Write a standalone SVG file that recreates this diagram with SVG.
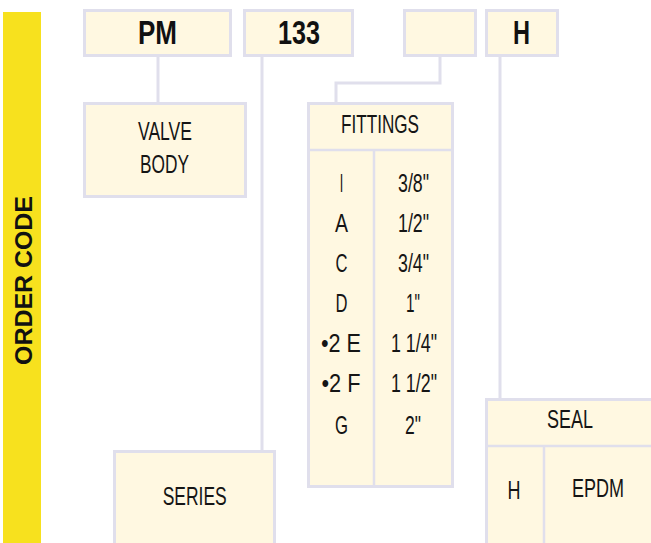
<svg xmlns="http://www.w3.org/2000/svg" width="651" height="543" viewBox="0 0 651 543">
<style>
.box{fill:#fff8e1;stroke:#e0dfec;stroke-width:3}
.div{stroke:#e0dfec;stroke-width:2.5;fill:none}
.con{stroke:#e0dfec;stroke-width:3;fill:none}
.t{font-family:"Liberation Sans Narrow","Liberation Sans",Arial,sans-serif;font-size:26px;fill:#151515;text-anchor:middle}
.b{font-family:"Liberation Sans Narrow","Liberation Sans",Arial,sans-serif;font-size:34px;font-weight:bold;fill:#111;text-anchor:middle}
</style>
<rect x="3" y="12" width="38" height="531" fill="#f7e11e"/>
<text transform="translate(32,280.5) rotate(-90)" font-family="'Liberation Sans',Arial,sans-serif" font-weight="bold" font-size="24.5" fill="#111" text-anchor="middle" textLength="169" lengthAdjust="spacingAndGlyphs">ORDER CODE</text>
<g id="connectors">
<line class="con" x1="158" y1="57" x2="158" y2="102"/>
<line class="con" x1="262" y1="57" x2="262" y2="450"/>
<path class="con" d="M440 57 V83 H336 V102"/>
<line class="con" x1="500" y1="57" x2="500" y2="398"/>
</g>
<g id="code-pm">
<rect class="box" x="84.5" y="10.5" width="146" height="45"/>
<text class="b" x="157.5" y="44" textLength="39" lengthAdjust="spacingAndGlyphs">PM</text>
</g>
<g id="code-133">
<rect class="box" x="244.5" y="10.5" width="108" height="45"/>
<text class="b" x="299" y="44" textLength="42" lengthAdjust="spacingAndGlyphs">133</text>
</g>
<g id="code-blank">
<rect class="box" x="404.5" y="10.5" width="71" height="45"/>
</g>
<g id="code-h">
<rect class="box" x="486.5" y="10.5" width="71" height="45"/>
<text class="b" x="521.5" y="44" textLength="17" lengthAdjust="spacingAndGlyphs">H</text>
</g>
<g id="valve-body">
<rect class="box" x="84.5" y="103.5" width="161" height="93"/>
<text class="t" x="165" y="140" textLength="54" lengthAdjust="spacingAndGlyphs">VALVE</text>
<text class="t" x="164.5" y="173" textLength="49" lengthAdjust="spacingAndGlyphs">BODY</text>
</g>
<g id="fittings">
<rect class="box" x="308.5" y="103.5" width="144" height="383"/>
<line class="div" x1="308" y1="150" x2="453" y2="150"/>
<line class="div" x1="374" y1="150" x2="374" y2="486"/>
<text class="t" x="380" y="133" textLength="78" lengthAdjust="spacingAndGlyphs">FITTINGS</text>
<text class="t" x="341.5" y="192" textLength="3.5" lengthAdjust="spacingAndGlyphs">I</text>
<text class="t" x="413.5" y="192" textLength="31" lengthAdjust="spacingAndGlyphs">3/8"</text>
<text class="t" x="341.5" y="232" textLength="13" lengthAdjust="spacingAndGlyphs">A</text>
<text class="t" x="413.5" y="232" textLength="31" lengthAdjust="spacingAndGlyphs">1/2"</text>
<text class="t" x="341.5" y="272" textLength="12" lengthAdjust="spacingAndGlyphs">C</text>
<text class="t" x="413.5" y="272" textLength="31" lengthAdjust="spacingAndGlyphs">3/4"</text>
<text class="t" x="341.5" y="312" textLength="12" lengthAdjust="spacingAndGlyphs">D</text>
<text class="t" x="413" y="312" textLength="14" lengthAdjust="spacingAndGlyphs">1"</text>
<text class="t" x="341" y="352" textLength="40" lengthAdjust="spacingAndGlyphs">•2 E</text>
<text class="t" x="414" y="352" textLength="46" lengthAdjust="spacingAndGlyphs">1 1/4"</text>
<text class="t" x="341" y="392" textLength="39" lengthAdjust="spacingAndGlyphs">•2 F</text>
<text class="t" x="414" y="392" textLength="46" lengthAdjust="spacingAndGlyphs">1 1/2"</text>
<text class="t" x="341.5" y="434" textLength="13" lengthAdjust="spacingAndGlyphs">G</text>
<text class="t" x="413" y="434" textLength="16" lengthAdjust="spacingAndGlyphs">2"</text>
</g>
<g id="series">
<rect class="box" x="114.5" y="451.5" width="160" height="100"/>
<text class="t" x="194.7" y="505" textLength="64" lengthAdjust="spacingAndGlyphs">SERIES</text>
</g>
<g id="seal">
<rect class="box" x="486.5" y="399.5" width="170" height="150"/>
<line class="div" x1="486" y1="446" x2="651" y2="446"/>
<line class="div" x1="544" y1="446" x2="544" y2="543"/>
<text class="t" x="570" y="428" textLength="46" lengthAdjust="spacingAndGlyphs">SEAL</text>
<text class="t" x="514" y="499" textLength="13" lengthAdjust="spacingAndGlyphs">H</text>
<text class="t" x="598" y="497" textLength="52" lengthAdjust="spacingAndGlyphs">EPDM</text>
</g>
</svg>
